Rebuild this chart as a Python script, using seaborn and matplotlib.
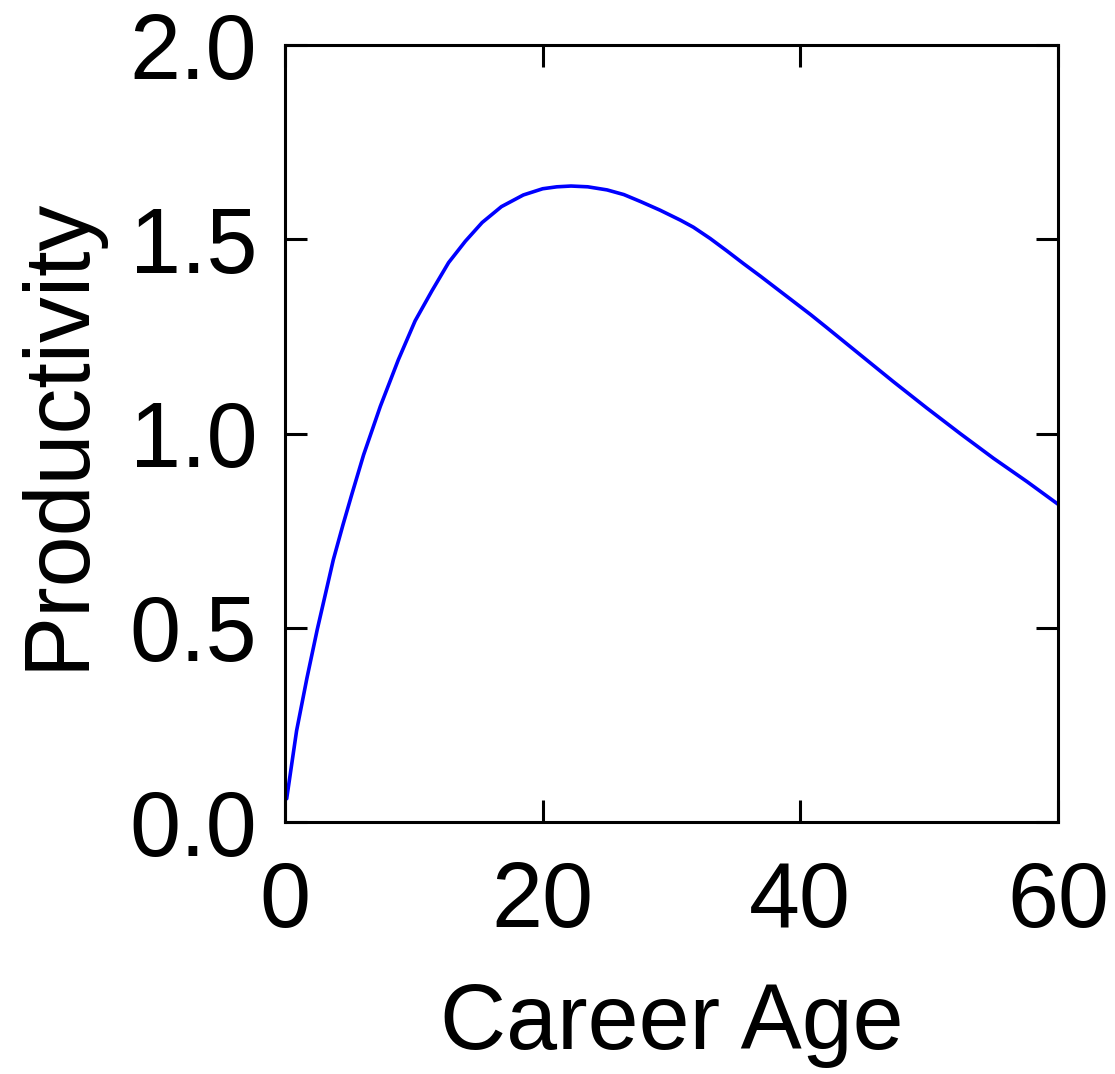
#!/usr/bin/env python3

import matplotlib
matplotlib.use('Agg')
import matplotlib.pyplot as plt
import seaborn as sns


# values
career_age = [0.13, 0.9, 1.7, 2.5, 3.0, 3.75, 4.5, 5.2, 6.1, 7.4, 8.8, 10.1,
              11.4, 12.7, 14.0, 15.3, 16.8, 18.5, 20.0, 21.1, 22.2, 23.5,
              25.0, 26.3, 27.6, 29.1, 30.7, 31.7, 33.0, 34.3, 35.6, 36.9,
              38.2, 39.5, 40.8, 42.0, 43.3, 44.6, 47.2, 49.8, 52.4, 55.0,
              57.6, 60.0]
productivity = [0.06, 0.235, 0.37, 0.495, 0.567, 0.675, 0.765, 0.845, 0.945,
                1.07, 1.19, 1.29, 1.367, 1.44, 1.495, 1.543, 1.584, 1.614,
                1.630, 1.635, 1.637, 1.635, 1.627, 1.615, 1.597, 1.575, 1.549,
                1.531, 1.502, 1.470, 1.437, 1.405, 1.372, 1.339, 1.306, 1.274,
                1.239, 1.204, 1.134, 1.066, 1.0, 0.936, 0.876, 0.818]
x_ticks = [0, 20, 40, 60]
y_ticks = [0.0, 0.5, 1.0, 1.5, 2.0]

sns.set_style('ticks')
plt.rcParams['font.family'] = ['Liberation Sans', 'DejaVu Sans']
plt.rcParams['text.color'] = 'black'
plt.rcParams['axes.labelcolor'] = 'black'

fig = plt.figure(figsize=(11.15, 10.74), dpi=100)
ax = fig.add_axes([0.2556, 0.2346, 0.6933, 0.7235])

sns.lineplot(x=career_age, y=productivity, color='#0000ff', linewidth=2.6, ax=ax)

ax.set_xlim(0, 60)
ax.set_ylim(0, 2)
ax.set_xticks(x_ticks)
ax.set_xticklabels([str(t) for t in x_ticks])
ax.set_yticks(y_ticks)
ax.set_yticklabels(['%.1f' % t for t in y_ticks])
ax.tick_params(direction='in', top=True, right=True, length=16, width=2.2,
               labelsize=66, colors='black')
ax.tick_params(axis='x', pad=27)
ax.tick_params(axis='y', pad=20)
for sp in ax.spines.values():
    sp.set_linewidth(2.2)
    sp.set_color('black')

ax.set_xlabel('Career Age', fontsize=66, labelpad=26)
ax.set_ylabel('Productivity', fontsize=66, labelpad=20)

plt.savefig('out.png', dpi=100)
